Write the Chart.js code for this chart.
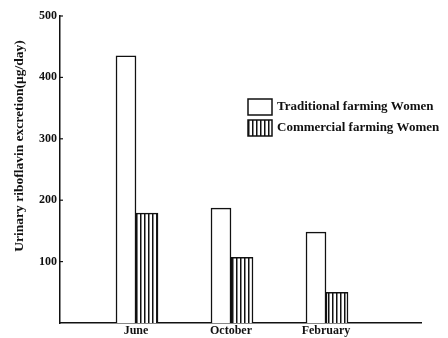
<!DOCTYPE html>
<html>
<head>
<meta charset="utf-8">
<script src="https://cdn.jsdelivr.net/npm/chart.js@4.4.1/dist/chart.umd.min.js"></script>
<style>
  html, body { margin: 0; padding: 0; background: #fff; }
  #wrap { width: 448px; height: 338px; }
</style>
</head>
<body>
<div id="wrap"><canvas id="c" width="448" height="338"></canvas></div>
<script>
const categories = ['June', 'October', 'February'];
const traditional = [435, 187, 148];
const commercial = [179, 107, 50];
const yTicks = [100, 200, 300, 400, 500];
const seriesNames = ['Traditional farming Women', 'Commercial farming Women'];
const yTitle = 'Urinary riboflavin excretion(\u03bcg/day)';

const FONT = '"Liberation Serif", "DejaVu Serif", serif';

function stripePattern() {
  const p = document.createElement('canvas');
  p.width = 4; p.height = 4;
  const g = p.getContext('2d');
  g.fillStyle = '#fff'; g.fillRect(0, 0, 4, 4);
  g.fillStyle = '#111'; g.fillRect(0, 0, 1.5, 4);
  return g.createPattern(p, 'repeat');
}
const hatch = stripePattern();

const toPoints = arr => arr.map((v, i) => ({ x: i + 1, y: v }));

const extras = {
  id: 'extras',
  afterDraw(chart) {
    const ctx = chart.ctx;
    const ca = chart.chartArea;
    const ys = chart.scales.y;
    ctx.save();
    ctx.strokeStyle = '#111'; ctx.lineWidth = 1.2;
    yTicks.forEach(v => {
      const py = ys.getPixelForValue(v);
      ctx.beginPath(); ctx.moveTo(ca.left, py); ctx.lineTo(ca.left + 3, py); ctx.stroke();
    });
    ctx.fillStyle = '#111';
    ctx.font = 'bold 13.5px ' + FONT;
    ctx.textAlign = 'center'; ctx.textBaseline = 'middle';
    ctx.translate(20, 146);
    ctx.rotate(-Math.PI / 2);
    ctx.fillText(yTitle, 0, 0);
    ctx.restore();
    ctx.save();
    const boxX = 248, boxW = 24, boxH = 16;
    const rows = [99, 120];
    chart.data.datasets.forEach((ds, i) => {
      const y0 = rows[i];
      ctx.fillStyle = ds.backgroundColor;
      ctx.fillRect(boxX, y0, boxW, boxH);
      ctx.strokeStyle = '#111'; ctx.lineWidth = 1.5;
      ctx.strokeRect(boxX, y0, boxW, boxH);
      ctx.fillStyle = '#111';
      ctx.font = 'bold 13px ' + FONT;
      ctx.textAlign = 'left'; ctx.textBaseline = 'middle';
      ctx.fillText(ds.label, 277, y0 + boxH / 2);
    });
    ctx.restore();
  }
};

new Chart(document.getElementById('c'), {
  type: 'bar',
  data: {
    datasets: [
      { label: seriesNames[0], data: toPoints(traditional), backgroundColor: '#fff',
        borderColor: '#111', borderWidth: 1.5, barThickness: 20, borderSkipped: 'bottom' },
      { label: seriesNames[1], data: toPoints(commercial), backgroundColor: hatch,
        borderColor: '#111', borderWidth: 1.5, barThickness: 22, borderSkipped: 'bottom' }
    ]
  },
  options: {
    responsive: false,
    animation: false,
    layout: { padding: { top: 16, right: 27, bottom: 0, left: 0 } },
    plugins: { legend: { display: false }, tooltip: { enabled: false } },
    scales: {
      x: {
        type: 'linear', min: 0.2, max: 4, offset: false,
        afterBuildTicks: s => { s.ticks = categories.map((c, i) => ({ value: i + 1 })); },
        afterFit: s => { s.height = 15; },
        ticks: { callback: v => categories[v - 1] || '', color: '#111',
                 font: { family: FONT, size: 12, weight: 'bold' }, padding: 1, maxRotation: 0, autoSkip: false },
        grid: { display: false, drawTicks: false },
        border: { color: '#111', width: 1.5 }
      },
      y: {
        min: 0, max: 500,
        afterBuildTicks: s => { s.ticks = yTicks.map(v => ({ value: v })); },
        afterFit: s => { s.width = 60; },
        ticks: { color: '#111', font: { family: FONT, size: 12, weight: 'bold' }, padding: 3 },
        grid: { display: false, drawTicks: false },
        border: { color: '#111', width: 1.5 }
      }
    }
  },
  plugins: [extras]
});
</script>
</body>
</html>
